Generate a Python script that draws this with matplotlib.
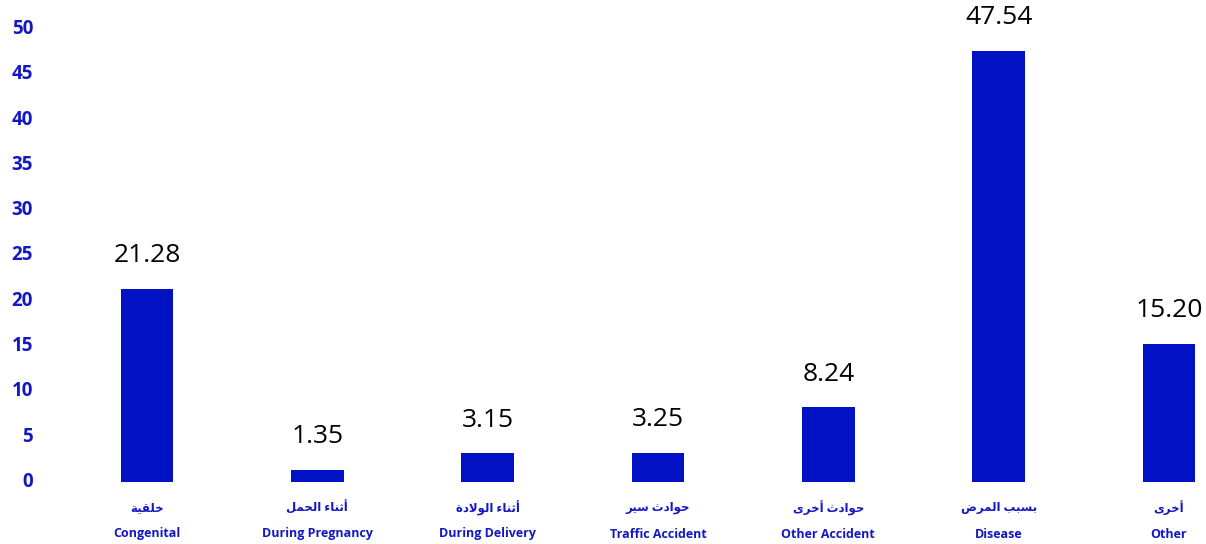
import matplotlib
matplotlib.use("Agg")
import matplotlib.pyplot as plt
import matplotlib.transforms as mtransforms

# data
labels_ar = ["خلقية", "أثناء الحمل", "أثناء الولادة", "حوادث سير",
             "حوادث أخرى", "بسبب المرض", "أخرى"]
labels_en = ["Congenital", "During Pregnancy", "During Delivery",
             "Traffic Accident", "Other Accident", "Disease", "Other"]
values = [21.28, 1.35, 3.15, 3.25, 8.24, 47.54, 15.20]
yticks = [0, 5, 10, 15, 20, 25, 30, 35, 40, 45, 50]

BAR = "#0012C4"
TXT = "#1218C4"
FAM = ["Open Sans", "DejaVu Sans"]

# small arabic shaper (matplotlib has no shaping): iso, fin, ini, med
FORMS = {
    "ء": (0xFE80, None, None, None),
    "ا": (0xFE8D, 0xFE8E, None, None),
    "أ": (0xFE83, 0xFE84, None, None),
    "ب": (0xFE8F, 0xFE90, 0xFE91, 0xFE92),
    "ة": (0xFE93, 0xFE94, None, None),
    "ت": (0xFE95, 0xFE96, 0xFE97, 0xFE98),
    "ث": (0xFE99, 0xFE9A, 0xFE9B, 0xFE9C),
    "ح": (0xFEA1, 0xFEA2, 0xFEA3, 0xFEA4),
    "خ": (0xFEA5, 0xFEA6, 0xFEA7, 0xFEA8),
    "د": (0xFEA9, 0xFEAA, None, None),
    "ر": (0xFEAD, 0xFEAE, None, None),
    "س": (0xFEB1, 0xFEB2, 0xFEB3, 0xFEB4),
    "ض": (0xFEBD, 0xFEBE, 0xFEBF, 0xFEC0),
    "ق": (0xFED5, 0xFED6, 0xFED7, 0xFED8),
    "ل": (0xFEDD, 0xFEDE, 0xFEDF, 0xFEE0),
    "م": (0xFEE1, 0xFEE2, 0xFEE3, 0xFEE4),
    "ن": (0xFEE5, 0xFEE6, 0xFEE7, 0xFEE8),
    "و": (0xFEED, 0xFEEE, None, None),
    "ى": (0xFEEF, 0xFEF0, None, None),
    "ي": (0xFEF1, 0xFEF2, 0xFEF3, 0xFEF4),
    "LA": (0xFEFB, 0xFEFC, None, None),
    "LAH": (0xFEF7, 0xFEF8, None, None),
}


def shape(s):
    toks = []
    i = 0
    while i < len(s):
        c = s[i]
        if c == "ل" and i + 1 < len(s) and s[i + 1] in "اأ":
            toks.append("LA" if s[i + 1] == "ا" else "LAH")
            i += 2
            continue
        toks.append(c)
        i += 1
    out = []
    for k, t in enumerate(toks):
        if t not in FORMS:
            out.append(t)
            continue
        f = FORMS[t]
        prev = toks[k - 1] if k > 0 else None
        nxt = toks[k + 1] if k + 1 < len(toks) else None
        jp = prev in FORMS and FORMS[prev][2] is not None and f[1] is not None
        jn = f[2] is not None and nxt in FORMS and FORMS[nxt][1] is not None
        if jp and jn:
            cp = f[3]
        elif jp:
            cp = f[1]
        elif jn:
            cp = f[2]
        else:
            cp = f[0]
        out.append(chr(cp))
    return "".join(out)[::-1]


fig = plt.figure(figsize=(12.06, 5.44), dpi=100)
W, H = 1206, 544
ax = fig.add_axes([40 / W, (H - 482) / H, (W - 40) / W, (482 - 29) / H])

x = list(range(len(values)))
ax.bar(x, values, width=0.31, color=BAR)

step = 170.33
ax.set_xlim((40 - 147) / step, (1206 - 147) / step)
ax.set_ylim(0, 50)

for s in ax.spines.values():
    s.set_visible(False)
ax.set_xticks([])
ax.set_yticks(yticks)
ax.set_yticklabels([str(v) for v in yticks], fontsize=13.5, fontweight="bold",
                   color=TXT, family=FAM)
ax.tick_params(axis="y", length=0, pad=5)
up = mtransforms.ScaledTranslation(0, 2.5 / 100, fig.dpi_scale_trans)
for lab in ax.get_yticklabels():
    lab.set_transform(lab.get_transform() + up)

for xi, v in zip(x, values):
    ax.annotate(f"{v:.2f}", (xi, v), xytext=(0, 15), textcoords="offset points",
                ha="center", va="bottom", fontsize=19, color="black",
                family=FAM, clip_on=False)

trans = mtransforms.blended_transform_factory(ax.transData, fig.transFigure)
for xi, a, e in zip(x, labels_ar, labels_en):
    ax.text(xi, 1 - 508 / H, shape(a), transform=trans, ha="center", va="center",
            fontsize=8.5, fontweight="bold", color=TXT, family=FAM)
    ax.text(xi, 1 - 534 / H, e, transform=trans, ha="center", va="center",
            fontsize=9, fontweight="bold", color=TXT, family=FAM)

fig.savefig("out.png", dpi=100)
